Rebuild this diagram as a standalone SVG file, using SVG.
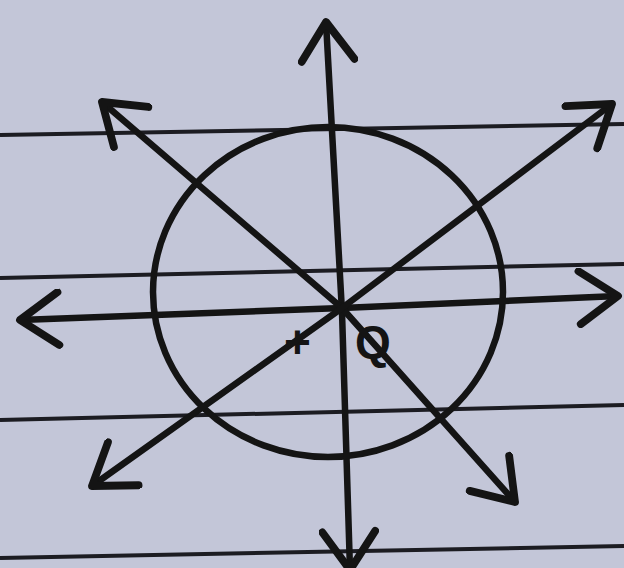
<svg xmlns="http://www.w3.org/2000/svg" width="624" height="568" viewBox="0 0 624 568">
  <defs>
    <marker id="arr" markerUnits="userSpaceOnUse" markerWidth="60" markerHeight="60" refX="40" refY="25" orient="auto-start-reverse" viewBox="0 0 50 50">
      <polyline points="8,3 40,25 8,47" fill="none" stroke="#141414" stroke-width="6.5" stroke-linecap="round" stroke-linejoin="round"/>
    </marker>
    <style>
      .pen { fill: none; stroke: #141414; stroke-width: 6.5; stroke-linecap: round; stroke-linejoin: round; }
      .rule { stroke: #1c1c22; stroke-width: 4; }
      .lbl { font-family: "Liberation Sans", "DejaVu Sans", sans-serif; font-size: 46px; font-weight: bold; fill: #141414; }
    </style>
  </defs>
  <rect width="624" height="568" fill="#c3c6d8"/>
  <!-- ruled notebook lines -->
  <g id="paper-lines">
    <line class="rule" x1="0" y1="135" x2="624" y2="124"/>
    <line class="rule" x1="0" y1="278" x2="624" y2="264"/>
    <line class="rule" x1="0" y1="420" x2="624" y2="405"/>
    <line class="rule" x1="0" y1="558" x2="624" y2="546"/>
  </g>
  <g id="circle-node">
    <ellipse class="pen" cx="328" cy="292" rx="175" ry="165"/>
  </g>
  <g id="charge-label">
    <text class="lbl" x="284" y="358">+<tspan dx="44">Q</tspan></text>
  </g>
  <g id="connectors">
    <polyline class="pen" points="326,22 342,312 350,570" marker-start="url(#arr)" marker-end="url(#arr)"/>
    <polyline class="pen" points="20,320 342,308 618,296" marker-start="url(#arr)" marker-end="url(#arr)"/>
    <polyline class="pen" points="102,102 342,308 515,502" marker-start="url(#arr)" marker-end="url(#arr)"/>
    <polyline class="pen" points="612,104 342,308 92,486" marker-start="url(#arr)" marker-end="url(#arr)"/>
  </g>
</svg>
